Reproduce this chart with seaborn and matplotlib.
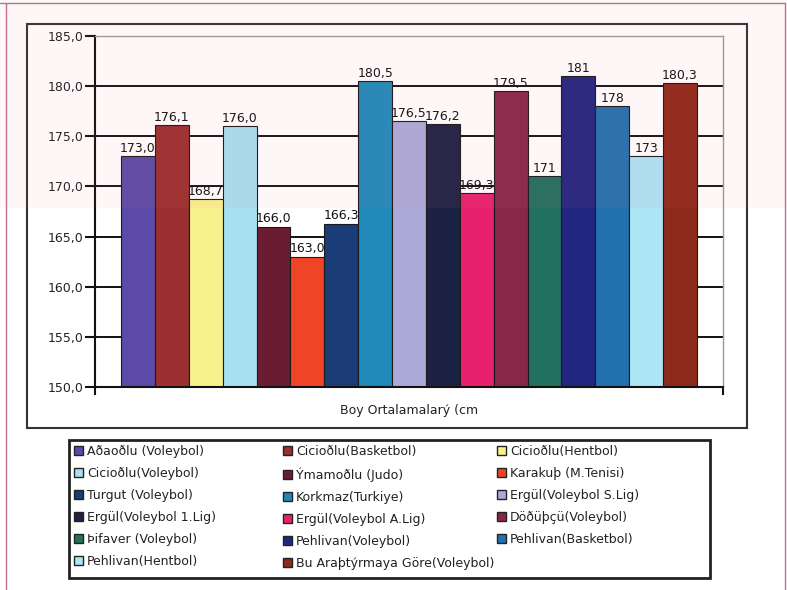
import matplotlib
matplotlib.use('Agg')
import matplotlib.pyplot as plt
import matplotlib.patches as mpatches
import matplotlib.lines as mlines
import matplotlib.ticker as ticker
import pandas as pd
import seaborn as sns

# one category, 17 series (Excel style clustered bar)
category = 'Boy Ortalamalarý (cm'
names = ['Aðaoðlu (Voleybol)', 'Cicioðlu(Basketbol)', 'Cicioðlu(Hentbol)',
         'Cicioðlu(Voleybol)', 'Ýmamoðlu (Judo)', 'Karakuþ (M.Tenisi)',
         'Turgut (Voleybol)', 'Korkmaz(Turkiye)', 'Ergül(Voleybol S.Lig)',
         'Ergül(Voleybol 1.Lig)', 'Ergül(Voleybol A.Lig)', 'Döðüþçü(Voleybol)',
         'Þifaver (Voleybol)', 'Pehlivan(Voleybol)', 'Pehlivan(Basketbol)',
         'Pehlivan(Hentbol)', 'Bu Araþtýrmaya Göre(Voleybol)']
heights = [173.0, 176.1, 168.7, 176.0, 166.0, 163.0, 166.3, 180.5, 176.5,
           176.2, 169.3, 179.5, 171.0, 181.0, 178.0, 173.0, 180.3]
value_labels = ['173,0', '176,1', '168,7', '176,0', '166,0', '163,0', '166,3',
                '180,5', '176,5', '176,2', '169,3', '179,5', '171', '181',
                '178', '173', '180,3']
colors = ['#5b4ba7', '#9c3030', '#f8f28c', '#a8e0f0', '#6a1c32', '#f04427',
          '#1b3c76', '#2089b9', '#aaaad9', '#1c2243', '#e8216f', '#882849',
          '#217060', '#21267f', '#2271af', '#aee5f4', '#8e2a1b']

W, H = 787, 590
FS = 9

sns.set_theme(style='white')
plt.rcParams['font.family'] = ['DejaVu Sans']

df = pd.DataFrame({'group': category, 'name': names, 'height': heights})

fig = plt.figure(figsize=(W / 100, H / 100), dpi=100)
fig.patch.set_facecolor('white')
ax = fig.add_axes([95 / W, 1 - 387 / H, (723 - 95) / W, (387 - 36) / H])
ax.set_facecolor('none')

sns.barplot(data=df, x='group', y='height', hue='name', hue_order=names,
            palette=colors, width=0.917, gap=0, saturation=1, errorbar=None,
            edgecolor='#1a1a1a', linewidth=0.8, legend=False, ax=ax)

for cont, lab in zip(ax.containers, value_labels):
    ax.bar_label(cont, labels=[lab], padding=1, fontsize=FS, color='#111111')

ax.set_xlim(-0.5, 0.5)
ax.set_ylim(150, 185)
ax.yaxis.set_major_locator(ticker.MultipleLocator(5))
ax.yaxis.set_major_formatter(ticker.FuncFormatter(lambda v, p: f'{v:.1f}'.replace('.', ',')))
ax.yaxis.grid(True, color='#111111', linewidth=1.4)
ax.set_axisbelow(True)
ax.set_xlabel('')
ax.set_ylabel('')

ax.tick_params(axis='y', direction='out', length=7, width=1.5, color='#111111',
               labelsize=FS, labelcolor='#222222', pad=1, left=True)
ax.tick_params(axis='x', which='major', length=0, pad=12, labelsize=FS,
               labelcolor='#222222')
ax.set_xticks([-0.5, 0.5], minor=True)
ax.tick_params(axis='x', which='minor', direction='out', length=6, width=1.5,
               color='#111111', bottom=True)

for side in ['left', 'bottom']:
    ax.spines[side].set_color('#111111')
    ax.spines[side].set_linewidth(1.5)
for side in ['top', 'right']:
    ax.spines[side].set_color('#9a9a9a')
    ax.spines[side].set_linewidth(1.0)

# chart frame and legend frame
fig.add_artist(mpatches.Rectangle((27 / W, 1 - 428 / H), 720 / W, 404 / H,
                                  transform=fig.transFigure, fill=False,
                                  edgecolor='#333333', linewidth=1.5))
fig.add_artist(mpatches.Rectangle((69 / W, 1 - 578 / H), 641 / W, 138 / H,
                                  transform=fig.transFigure, fill=False,
                                  edgecolor='#222222', linewidth=2))
# page edges
fig.add_artist(mlines.Line2D([0, 785 / W], [1 - 3 / H, 1 - 3 / H],
                             transform=fig.transFigure, color='#888888', lw=1))
fig.add_artist(mlines.Line2D([6 / W, 6 / W], [0, 1 - 3 / H],
                             transform=fig.transFigure, color='#c07090', lw=1))
fig.add_artist(mlines.Line2D([785 / W, 785 / W], [0, 1 - 3 / H],
                             transform=fig.transFigure, color='#c07090', lw=1))
# faint pink tint of the scanned page (upper part)
fig.add_artist(mpatches.Rectangle((0, 1 - 208 / H), 1, 208 / H,
                                  transform=fig.transFigure, facecolor='#f07890',
                                  edgecolor='none', alpha=0.06, zorder=10))

# legend: three columns read row by row
handles = [mpatches.Patch(facecolor=c, edgecolor='#222222', linewidth=1) for c in colors]
col_x = [74, 283, 497]
for i, x in enumerate(col_x):
    fig.legend(handles[i::3], names[i::3], loc='upper left',
               bbox_to_anchor=(x / W, 1 - 445 / H), frameon=False,
               borderpad=0, borderaxespad=0, fontsize=FS, handlelength=0.75,
               handleheight=0.75, handletextpad=0.3, labelspacing=0.72,
               labelcolor='#222222')

fig.savefig('out.png', dpi=100)
